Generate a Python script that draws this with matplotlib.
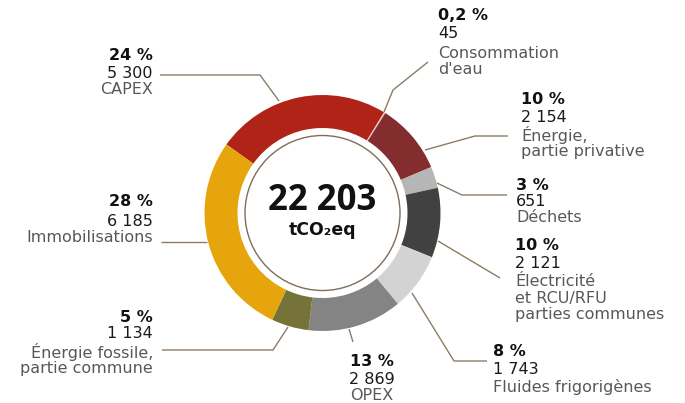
import matplotlib.pyplot as plt
import numpy as np

plt.rcParams['font.family'] = ['Open Sans', 'DejaVu Sans']

# data
categories = ["CAPEX", "Consommation\nd'eau", "Énergie,\npartie privative", "Déchets",
              "Électricité\net RCU/RFU\nparties communes", "Fluides frigorigènes", "OPEX",
              "Énergie fossile,\npartie commune", "Immobilisations"]
values = [5300, 45, 2154, 651, 2121, 1743, 2869, 1134, 6185]
pct_labels = ["24 %", "0,2 %", "10 %", "3 %", "10 %", "8 %", "13 %", "5 %", "28 %"]
num_labels = ["5 300", "45", "2 154", "651", "2 121", "1 743", "2 869", "1 134", "6 185"]
total_label = "22 203"
unit_label = "tCO₂eq"

colors = ["#b02317", "#e8c4bc", "#842d2e", "#b6b6b6", "#414141", "#d2d3d2",
          "#848484", "#767339", "#e6a50c"]

W, H = 685, 403
fig = plt.figure(figsize=(W / 100, H / 100), dpi=100)
ax = fig.add_axes([0, 0, 1, 1])

def P(x, y):
    # pixel coords (y down) -> data coords (y up)
    return x, H - y

cx, cy = P(322.5, 213)
ax.pie(values, colors=colors, startangle=144.5, counterclock=False,
       center=(cx, cy), radius=118,
       wedgeprops=dict(width=33, linewidth=0))
ax.add_patch(plt.Circle((cx, cy), 77.5, fill=False, ec="#7d6d5a", lw=1))

ax.text(cx, cy + 12, total_label, ha="center", va="center", fontsize=25,
        fontweight="bold", color="#111111")
ax.text(cx, cy - 17, unit_label, ha="center", va="center", fontsize=12.5,
        fontweight="bold", color="#111111", family=["DejaVu Sans"])

# leader lines (pixel coords)
leaders = [
    [(279, 101), (260, 75), (160, 75)],
    [(384, 112), (393, 90), (428, 62)],
    [(425, 150), (475, 136), (508, 136)],
    [(437, 183), (462, 195), (507, 195)],
    [(438, 241), (500, 278)],
    [(412, 293), (454, 361), (487, 361)],
    [(349, 329), (353, 342)],
    [(288, 327), (273, 350), (162, 350)],
    [(207, 242), (161, 242)],
]
for pts in leaders:
    xs, ys = zip(*[P(*p) for p in pts])
    ax.plot(xs, ys, color="#8c7c66", lw=1, solid_capstyle="butt")

# label layout: x, ha, y of pct, number, description lines
layout = [
    (153, "right", [56, 73, 89]),
    (438, "left", [16, 34, 53]),
    (521, "left", [100, 117, 135]),
    (516, "left", [185, 201, 217]),
    (515, "left", [246, 264, 282]),
    (493, "left", [351, 370, 387]),
    (372, "center", [361, 379, 395]),
    (153, "right", [317, 334, 352]),
    (153, "right", [202, 222, 238]),
]
line_h = 16.5
lab = dict(family=["DejaVu Sans"], fontsize=11.5, va="center")
for i, (x, ha, ys) in enumerate(layout):
    ax.text(*P(x, ys[0]), pct_labels[i], ha=ha, fontweight="bold",
            color="#111111", **lab)
    ax.text(*P(x, ys[1]), num_labels[i], ha=ha, color="#1a1a1a", **lab)
    for j, line in enumerate(categories[i].split("\n")):
        ax.text(*P(x, ys[2] + j * line_h), line, ha=ha, color="#585858", **lab)

ax.set_xlim(0, W)
ax.set_ylim(0, H)
ax.set_aspect("equal")
ax.axis("off")
fig.savefig("out.png", dpi=100)
